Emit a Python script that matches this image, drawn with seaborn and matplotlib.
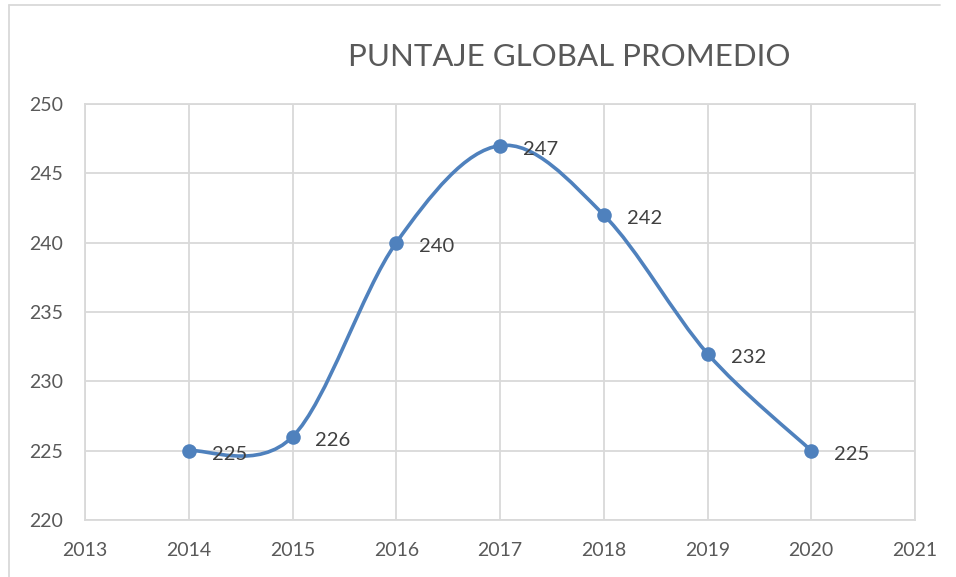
import numpy as np
import matplotlib
matplotlib.use("Agg")
import matplotlib.pyplot as plt
import seaborn as sns
from matplotlib.path import Path
from matplotlib.patches import PathPatch
from matplotlib.lines import Line2D

# data
years = [2014, 2015, 2016, 2017, 2018, 2019, 2020]
scores = [225, 226, 240, 247, 242, 232, 225]
title = "PUNTAJE GLOBAL PROMEDIO"

blue = "#4F81BD"
grid_c = "#D9D9D9"
text_c = "#595959"

sns.set_style("white")
plt.rcParams["font.family"] = ["Lato", "DejaVu Sans"]

fig = plt.figure(figsize=(9.56, 5.77), dpi=100)
ax = fig.add_axes([85 / 956, 1 - 520 / 577, 830 / 956, 416 / 577])

# smooth line (Excel-style Bezier through the points)
x = np.array(years, dtype=float)
y = np.array(scores, dtype=float)
xp = np.concatenate([[x[0]], x, [x[-1]]])
yp = np.concatenate([[y[0]], y, [y[-1]]])
verts = [(x[0], y[0])]
codes = [Path.MOVETO]
for i in range(len(x) - 1):
    c1 = (x[i] + (xp[i + 2] - xp[i]) / 6, y[i] + (yp[i + 2] - yp[i]) / 6)
    c2 = (x[i + 1] - (xp[i + 3] - xp[i + 1]) / 6, y[i + 1] - (yp[i + 3] - yp[i + 1]) / 6)
    verts += [c1, c2, (x[i + 1], y[i + 1])]
    codes += [Path.CURVE4] * 3
ax.add_patch(PathPatch(Path(verts, codes), facecolor="none", edgecolor=blue,
                       lw=2.6, capstyle="round", zorder=3))

sns.scatterplot(x=years, y=scores, ax=ax, s=110, color=blue, edgecolor=blue,
                linewidth=0, zorder=4, legend=False)

for xi, yi in zip(years, scores):
    ax.annotate(str(yi), (xi, yi), xytext=(23, -4), textcoords="offset pixels",
                ha="left", va="center", fontsize=14.5, color="#404040", zorder=5)

ax.set_xlim(2013, 2021)
ax.set_ylim(220, 250)
ax.set_xticks(range(2013, 2022))
ax.set_yticks(range(220, 251, 5))
ax.grid(True, color=grid_c, lw=1.3)
ax.set_axisbelow(True)
for s in ax.spines.values():
    s.set_color(grid_c)
    s.set_linewidth(1.3)
ax.tick_params(length=0, labelsize=14, labelcolor=text_c, pad=16)

fig.text(569 / 956, 1 - 57 / 577, title, ha="center", va="center",
         fontsize=22.5, color=text_c)

# chart frame (partially cropped)
fig.add_artist(Line2D([9 / 956, 9 / 956], [0, 1 - 5 / 577], color=grid_c, lw=1.3))
fig.add_artist(Line2D([9 / 956, 940 / 956], [1 - 5 / 577, 1 - 5 / 577], color=grid_c, lw=1.3))

fig.savefig("out.png", dpi=100)
